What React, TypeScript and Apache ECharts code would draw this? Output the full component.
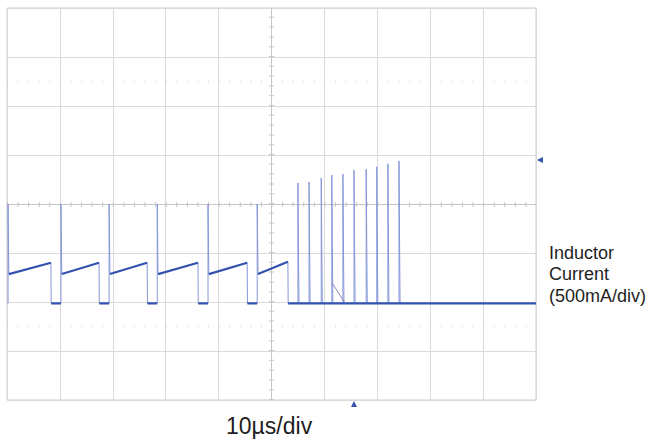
import React, { useEffect, useRef } from "react";
import * as echarts from "echarts";

// time axis in µs (10 µs/div), vertical axis in divisions (500 mA/div)
const xTicks = [0, 10, 20, 30, 40, 50, 60, 70, 80, 90, 100];
const baseline = -2.03;

// periodic (PWM) part
const cycleSpike = [0.2, 10.2, 19.3, 28.4, 38.0, 47.3];
const cycleDrop = [8.3, 17.4, 26.5, 36.1, 45.4, 53.1];
const rampStart = [-1.43, -1.43, -1.43, -1.43, -1.43, -1.43];
const rampEnd = [-1.2, -1.2, -1.2, -1.2, -1.2, -1.18];
const spikeTop = [0, 0, 0, 0, 0, 0];

// burst part
const burstTimes = [55.0, 57.1, 59.4, 61.4, 63.5, 65.6, 67.9, 69.9, 72.0, 74.1];
const burstPeaks = [0.43, 0.45, 0.53, 0.59, 0.61, 0.69, 0.71, 0.76, 0.82, 0.88];
const burstMid = [-1.18, -1.12, -1.08, -1.08, -1.06, -1.04, -1.02, -0.98, -0.94, -0.9];

const artifact = [
  [61.5, -1.62],
  [63.9, -2.02],
];

const triggerLevel = 0.9;
const triggerTime = 65.6;

function buildThin(): (number | null)[][] {
  const d: (number | null)[][] = [];
  for (let i = 0; i < cycleSpike.length; i++) {
    d.push([cycleSpike[i], baseline]);
    d.push([cycleSpike[i], spikeTop[i]]);
    d.push([cycleSpike[i] + 0.15, rampStart[i]]);
    d.push([cycleDrop[i], rampEnd[i]]);
    d.push([cycleDrop[i] + 0.05, baseline]);
  }
  for (let i = 0; i < burstTimes.length; i++) {
    d.push([burstTimes[i], baseline]);
    d.push([burstTimes[i], burstPeaks[i]]);
    d.push([burstTimes[i] + 0.12, burstMid[i]]);
    d.push([burstTimes[i] + 0.2, baseline]);
  }
  d.push([100, baseline]);
  return d;
}

function buildThick(): (number | null)[][] {
  const d: (number | null)[][] = [];
  for (let i = 0; i < cycleSpike.length; i++) {
    d.push([cycleSpike[i] + 0.15, rampStart[i]]);
    d.push([cycleDrop[i], rampEnd[i]]);
    d.push([cycleDrop[i], null]);
    d.push([cycleDrop[i] + 0.05, baseline]);
    if (i + 1 < cycleSpike.length) {
      d.push([cycleSpike[i + 1], baseline]);
      d.push([cycleSpike[i + 1], null]);
    }
  }
  d.push([100, baseline]);
  return d;
}

const FONT = "'Liberation Sans', Arial, Helvetica, sans-serif";
const GRID = "#dadada";
const CENTER = "#c6c6c6";

export default function App() {
  const ref = useRef<HTMLDivElement>(null);
  useEffect(() => {
    if (!ref.current) return;
    const chart = echarts.init(ref.current, null, { renderer: "svg" });
    const axisCommon = {
      type: "value" as const,
      axisLine: { show: false },
      axisTick: { show: false },
      axisLabel: { show: false },
      splitLine: { show: true, lineStyle: { color: GRID, width: 1 } },
    };
    chart.setOption({
      animation: false,
      backgroundColor: "#ffffff",
      grid: {
        left: 7,
        top: 8,
        width: 529,
        height: 392,
        show: true,
        borderColor: "#cdcdcd",
        borderWidth: 1,
        backgroundColor: "transparent",
      },
      xAxis: { ...axisCommon, min: xTicks[0], max: xTicks[xTicks.length - 1], interval: 10 },
      yAxis: { ...axisCommon, min: -4, max: 4, interval: 1 },
      series: [
        {
          type: "line",
          name: "trace-thin",
          data: buildThin(),
          showSymbol: false,
          symbol: "none",
          lineStyle: { color: "#8597d9", width: 1 },
          silent: true,
          z: 3,
          markLine: {
            silent: true,
            symbol: ["none", "none"],
            label: { show: false },
            data: [
              { yAxis: 0, lineStyle: { color: CENTER, width: 1, type: "solid" } },
              { xAxis: 50, lineStyle: { color: CENTER, width: 1, type: "solid" } },
              { yAxis: 0, lineStyle: { color: CENTER, width: 5, type: [1, 9.58] } },
              { xAxis: 50, lineStyle: { color: CENTER, width: 5, type: [1, 8.8] } },
              { yAxis: 2.5, lineStyle: { color: "#c4c4c4", width: 1, type: [1, 9.58] } },
              { yAxis: -2.5, lineStyle: { color: "#c4c4c4", width: 1, type: [1, 9.58] } },
            ],
            z: 1,
          },
        },
        {
          type: "line",
          name: "trace-thick",
          data: buildThick(),
          showSymbol: false,
          symbol: "none",
          connectNulls: false,
          lineStyle: { color: "#3453b0", width: 2.2 },
          silent: true,
          z: 4,
          markPoint: {
            silent: true,
            label: { show: false },
            itemStyle: { color: "#3453b0" },
            data: [
              {
                coord: [100, triggerLevel],
                symbol: "triangle",
                symbolSize: [6, 6],
                symbolRotate: 90,
                symbolOffset: [4, 0],
              },
              {
                coord: [triggerTime, -4],
                symbol: "triangle",
                symbolSize: [6, 6],
                symbolRotate: 0,
                symbolOffset: [0, 4],
              },
            ],
          },
        },
        {
          type: "line",
          name: "artifact",
          data: artifact,
          showSymbol: false,
          symbol: "none",
          lineStyle: { color: "#8a84b8", width: 1 },
          silent: true,
          z: 5,
        },
      ],
      graphic: [
        {
          type: "text",
          left: 226,
          top: 427 - 13,
          style: {
            text: "10µs/div",
            font: `23px ${FONT}`,
            fill: "#1e1e1e",
          },
        },
        {
          type: "text",
          left: 549,
          top: 242,
          style: {
            text: "Inductor\nCurrent\n(500mA/div)",
            font: `18px ${FONT}`,
            lineHeight: 21.6,
            fill: "#1e1e1e",
          },
        },
      ],
    });
    return () => chart.dispose();
  }, []);
  return (
    <div
      ref={ref}
      style={{ position: "fixed", left: 0, top: 0, width: 652, height: 441, background: "#fff" }}
    />
  );
}
